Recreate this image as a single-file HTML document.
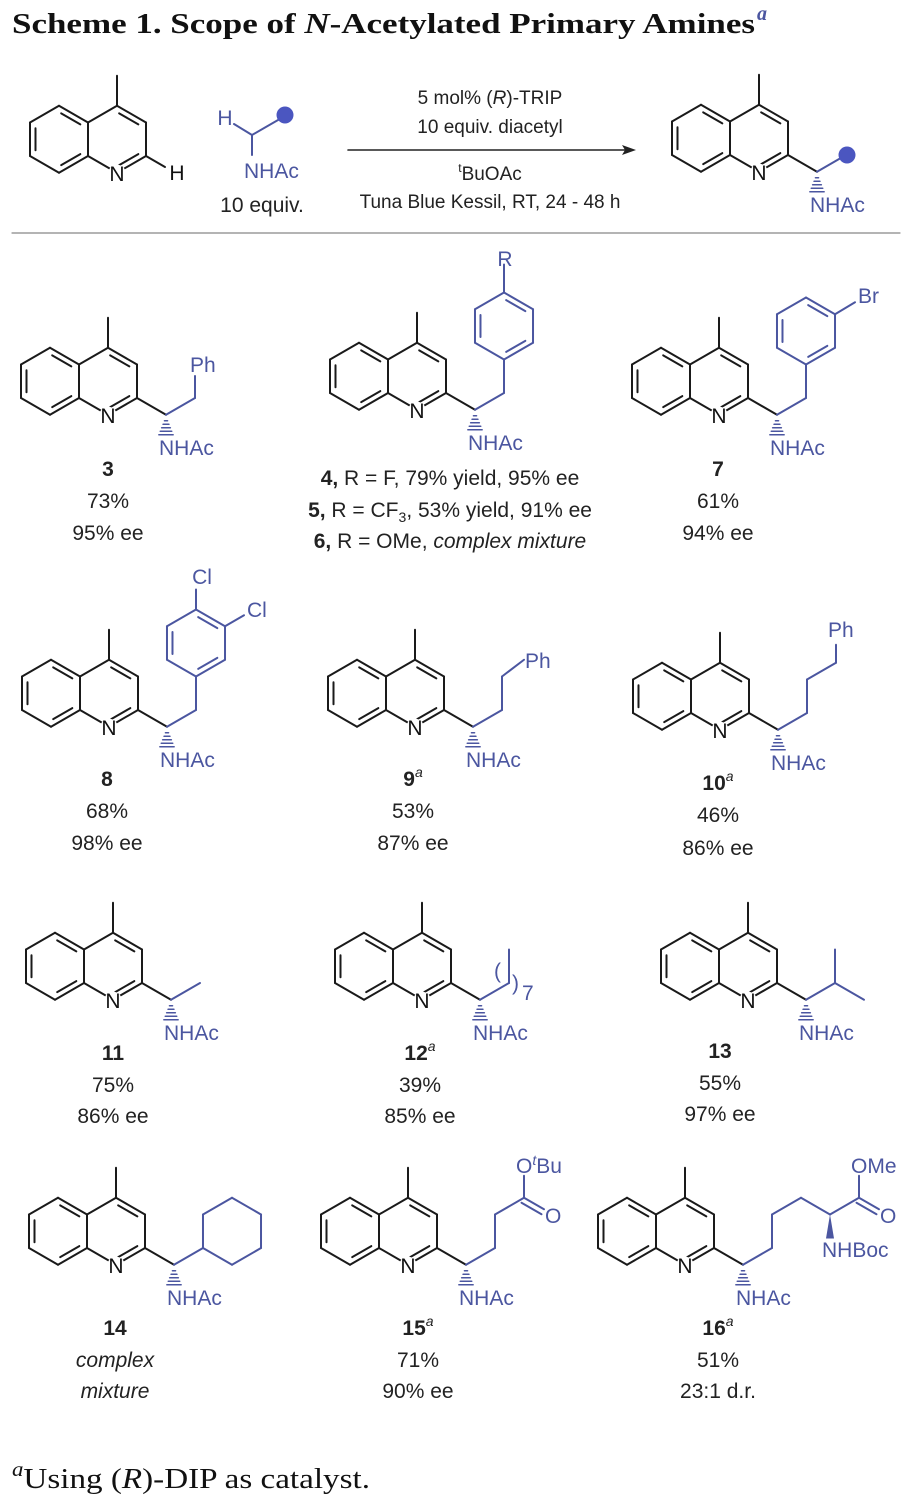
<!DOCTYPE html>
<html><head><meta charset="utf-8">
<style>
html,body{margin:0;padding:0;background:#fff;}
svg{display:block;}
.t{font-family:"Liberation Sans",sans-serif;font-size:21px;fill:#222;}
.b{font-weight:bold;}
.bl{font-family:"Liberation Sans",sans-serif;font-size:21px;fill:#4b56a0;}
.k{font-family:"Liberation Sans",sans-serif;font-size:21px;fill:#111;}
.c{font-family:"Liberation Sans",sans-serif;font-size:19px;fill:#222;}
</style></head><body>
<svg id="s" width="915" height="1508" viewBox="0 0 915 1508" xmlns="http://www.w3.org/2000/svg">
<g id="bonds"></g>
<g id="labels">
<text x="12" y="33" font-family="Liberation Serif,serif" font-weight="bold" font-size="29" fill="#111" textLength="743" lengthAdjust="spacingAndGlyphs">Scheme 1. Scope of <tspan font-style="italic">N</tspan>-Acetylated Primary Amines</text>
<text x="757" y="20" font-family="Liberation Serif,serif" font-weight="bold" font-style="italic" font-size="20" fill="#4b56a0">a</text>

<text class="k" x="177" y="180" text-anchor="middle">H</text>
<text class="bl" x="225" y="125" text-anchor="middle">H</text>
<text class="bl" x="244" y="178">NHAc</text>
<text class="t" x="262" y="212" text-anchor="middle">10 equiv.</text>
<text class="c" x="490" y="104" text-anchor="middle">5 mol% (<tspan font-style="italic">R</tspan>)-TRIP</text>
<text class="c" x="490" y="133" text-anchor="middle">10 equiv. diacetyl</text>
<text class="c" x="490" y="180" text-anchor="middle"><tspan font-size="12" dy="-8">t</tspan><tspan dy="8">BuOAc</tspan></text>
<text class="c" x="490" y="208" text-anchor="middle">Tuna Blue Kessil, RT, 24 - 48 h</text>

<text class="bl" x="190" y="372">Ph</text>
<text class="t b" x="108" y="476" text-anchor="middle">3</text>
<text class="t" x="108" y="508" text-anchor="middle">73%</text>
<text class="t" x="108" y="540" text-anchor="middle">95% ee</text>
<text class="bl" x="505" y="266" text-anchor="middle">R</text>
<text class="t" x="450" y="485" text-anchor="middle"><tspan font-weight="bold">4,</tspan> R = F, 79% yield, 95% ee</text>
<text class="t" x="450" y="517" text-anchor="middle"><tspan font-weight="bold">5,</tspan> R = CF<tspan font-size="14" dy="5">3</tspan><tspan dy="-5">, 53% yield, 91% ee</tspan></text>
<text class="t" x="450" y="548" text-anchor="middle"><tspan font-weight="bold">6,</tspan> R = OMe, <tspan font-style="italic">complex mixture</tspan></text>
<text class="bl" x="858" y="303">Br</text>
<text class="t b" x="718" y="476" text-anchor="middle">7</text>
<text class="t" x="718" y="508" text-anchor="middle">61%</text>
<text class="t" x="718" y="540" text-anchor="middle">94% ee</text>
<text class="bl" x="202" y="584" text-anchor="middle">Cl</text>
<text class="bl" x="247" y="617">Cl</text>
<text class="t b" x="107" y="786" text-anchor="middle">8</text>
<text class="t" x="107" y="818" text-anchor="middle">68%</text>
<text class="t" x="107" y="850" text-anchor="middle">98% ee</text>
<text class="bl" x="525" y="668">Ph</text>
<text class="t" x="413" y="786" text-anchor="middle"><tspan font-weight="bold">9</tspan><tspan font-size="14" font-style="italic" dy="-9">a</tspan></text>
<text class="t" x="413" y="818" text-anchor="middle">53%</text>
<text class="t" x="413" y="850" text-anchor="middle">87% ee</text>
<text class="bl" x="828" y="637">Ph</text>
<text class="t" x="718" y="790" text-anchor="middle"><tspan font-weight="bold">10</tspan><tspan font-size="14" font-style="italic" dy="-9">a</tspan></text>
<text class="t" x="718" y="822" text-anchor="middle">46%</text>
<text class="t" x="718" y="855" text-anchor="middle">86% ee</text>
<text class="t b" x="113" y="1060" text-anchor="middle">11</text>
<text class="t" x="113" y="1092" text-anchor="middle">75%</text>
<text class="t" x="113" y="1123" text-anchor="middle">86% ee</text>
<text class="bl" x="494" y="978" font-size="22">(</text>
<text class="bl" x="512" y="990" font-size="22">)</text>
<text class="bl" x="522" y="1000" font-size="15">7</text>
<text class="t" x="420" y="1060" text-anchor="middle"><tspan font-weight="bold">12</tspan><tspan font-size="14" font-style="italic" dy="-9">a</tspan></text>
<text class="t" x="420" y="1092" text-anchor="middle">39%</text>
<text class="t" x="420" y="1123" text-anchor="middle">85% ee</text>
<text class="t b" x="720" y="1058" text-anchor="middle">13</text>
<text class="t" x="720" y="1090" text-anchor="middle">55%</text>
<text class="t" x="720" y="1121" text-anchor="middle">97% ee</text>
<text class="t b" x="115" y="1335" text-anchor="middle">14</text>
<text class="t" x="115" y="1367" text-anchor="middle" font-style="italic">complex</text>
<text class="t" x="115" y="1398" text-anchor="middle" font-style="italic">mixture</text>
<text class="bl" x="516" y="1173">O<tspan font-size="14" font-style="italic" dy="-8">t</tspan><tspan dy="8">Bu</tspan></text>
<text class="bl" x="545" y="1223">O</text>
<text class="t" x="418" y="1335" text-anchor="middle"><tspan font-weight="bold">15</tspan><tspan font-size="14" font-style="italic" dy="-9">a</tspan></text>
<text class="t" x="418" y="1367" text-anchor="middle">71%</text>
<text class="t" x="418" y="1398" text-anchor="middle">90% ee</text>
<text class="bl" x="851" y="1173">OMe</text>
<text class="bl" x="880" y="1223">O</text>
<text class="bl" x="822" y="1257">NHBoc</text>
<text class="t" x="718" y="1335" text-anchor="middle"><tspan font-weight="bold">16</tspan><tspan font-size="14" font-style="italic" dy="-9">a</tspan></text>
<text class="t" x="718" y="1367" text-anchor="middle">51%</text>
<text class="t" x="718" y="1398" text-anchor="middle">23:1 d.r.</text>

<text x="12" y="1488" font-family="Liberation Serif,serif" font-size="29" fill="#111" textLength="358" lengthAdjust="spacingAndGlyphs"><tspan font-style="italic" font-size="20" dy="-12">a</tspan><tspan dy="12">Using (</tspan><tspan font-style="italic">R</tspan>)-DIP as catalyst.</text>
</g>
<g id="nhac"></g>
</svg>
<script>
(function(){
var NS="http://www.w3.org/2000/svg";
var g=document.getElementById("bonds"), gl=document.getElementById("nhac");
var K="#1a1a1a", B="#4b56a0";
var L=33.5,w=29,h=16.75;
function el(n,a,p){var e=document.createElementNS(NS,n);for(var k in a)e.setAttribute(k,a[k]);(p||g).appendChild(e);return e;}
function ln(x1,y1,x2,y2,c,sw){el("line",{x1:x1,y1:y1,x2:x2,y2:y2,stroke:c||K,"stroke-width":sw||2,"stroke-linecap":"round"});}
function inner(a,b,cx,cy,c){
 var mx=(a[0]+b[0])/2,my=(a[1]+b[1])/2,dx=cx-mx,dy=cy-my,d=Math.hypot(dx,dy);
 var ox=dx/d*5.5,oy=dy/d*5.5,f=0.17;
 var x1=a[0]+(b[0]-a[0])*f+ox,y1=a[1]+(b[1]-a[1])*f+oy,x2=b[0]+(a[0]-b[0])*f+ox,y2=b[1]+(a[1]-b[1])*f+oy;
 ln(x1,y1,x2,y2,c);
}
function quin(x,y){
 var C2=[x,y],C3=[x,y-L],C4=[x-w,y-L-h],C4a=[x-2*w,y-L],C8a=[x-2*w,y],N=[x-w,y+h],
 C5=[x-3*w,y-L-h],C6=[x-4*w,y-L],C7=[x-4*w,y],C8=[x-3*w,y+h];
 var P=[[C2,C3],[C3,C4],[C4,C4a],[C4a,C8a],[C8a,N],[N,C2],[C4a,C5],[C5,C6],[C6,C7],[C7,C8],[C8,C8a]];
 P.forEach(function(p){ln(p[0][0],p[0][1],p[1][0],p[1][1]);});
 var rc=[x-w,y-h],lc=[x-3*w,y-h];
 inner(C3,C4,rc[0],rc[1]);inner(N,C2,rc[0],rc[1]);
 inner(C4a,C5,lc[0],lc[1]);inner(C6,C7,lc[0],lc[1]);inner(C8,C8a,lc[0],lc[1]);
 ln(C4[0],C4[1],C4[0],C4[1]-30);
 el("circle",{cx:N[0],cy:N[1]+1,r:9,fill:"#fff"});
 var t=el("text",{x:N[0],y:N[1]+8,"text-anchor":"middle","class":"k"});t.textContent="N";
}
function hash(x,y,len){
 for(var i=0;i<5;i++){var yy=y+6+i*(len-6)/4,hw=1.5+i*1.4;ln(x-hw,yy,x+hw,yy,B,1.6);}
}
function nhac(x,y){hash(x,y,20);var t=el("text",{x:x-7,y:y+40,"class":"bl"},gl);t.textContent="NHAc";}
function ring(cx,cy,c,dbl,sat){
 var v=[];[90,30,-30,-90,-150,150].forEach(function(a){var r=a*Math.PI/180;v.push([cx+L*Math.cos(r),cy+L*Math.sin(r)]);});
 for(var i=0;i<6;i++){var a=v[i],b=v[(i+1)%6];ln(a[0],a[1],b[0],b[1],c);}
 if(!sat){[[0,1],[2,3],[4,5]].forEach(function(p){inner(v[p[0]],v[p[1]],cx,cy,c);});}
 return v;
}
function chain(pts,c){for(var i=0;i<pts.length-1;i++)ln(pts[i][0],pts[i][1],pts[i+1][0],pts[i+1][1],c||B);}
function sc(x,y){return [x+w,y+h];}
quin(146,156); ln(146,156,165,167);
chain([[234,124],[252,135],[285,116]]);ln(252,135,252,155,B);
el("circle",{cx:285,cy:115,r:8.5,fill:"#4b56c0"});
ln(348,150,628,150,"#222",1.6);
el("polygon",{points:"636,150 622,145 625,150 622,155",fill:"#222"});
ln(12,233,900,233,"#888",1.2);
quin(788,155);
var a=sc(788,155);ln(788,155,a[0],a[1]);chain([a,[846,155]]);el("circle",{cx:847,cy:155,r:8.5,fill:"#4b56c0"});nhac(a[0],a[1]);
quin(137,398);a=sc(137,398);ln(137,398,a[0],a[1]);chain([a,[a[0]+w,a[1]-h],[a[0]+w,a[1]-h-22]]);nhac(a[0],a[1]);
function benzyl(x,y){quin(x,y);var a=sc(x,y);ln(x,y,a[0],a[1]);var c=[a[0]+w,a[1]-h];var bt=[c[0],c[1]-L];chain([a,c,bt]);nhac(a[0],a[1]);return ring(bt[0],bt[1]-L,B);}
var v=benzyl(446,393);ln(v[3][0],v[3][1],v[3][0],v[3][1]-28,B);
v=benzyl(748,398);ln(v[2][0],v[2][1],v[2][0]+20,v[2][1]-12,B);
v=benzyl(138,710);ln(v[3][0],v[3][1],v[3][0],v[3][1]-20,B);ln(v[2][0],v[2][1],v[2][0]+19,v[2][1]-11,B);
quin(444,710);a=sc(444,710);ln(444,710,a[0],a[1]);chain([a,[a[0]+w,a[1]-h],[a[0]+w,a[1]-h-L],[a[0]+w+22,a[1]-2*h-L]]);nhac(a[0],a[1]);
quin(749,713);a=sc(749,713);ln(749,713,a[0],a[1]);chain([a,[a[0]+w,a[1]-h],[a[0]+w,a[1]-h-L],[a[0]+2*w,a[1]-2*h-L],[a[0]+2*w,a[1]-2*h-L-18]]);nhac(a[0],a[1]);
quin(142,983);a=sc(142,983);ln(142,983,a[0],a[1]);chain([a,[a[0]+w,a[1]-h]]);nhac(a[0],a[1]);
quin(451,983);a=sc(451,983);ln(451,983,a[0],a[1]);chain([a,[a[0]+w,a[1]-h],[a[0]+w,a[1]-h-L]]);nhac(a[0],a[1]);
quin(777,983);a=sc(777,983);ln(777,983,a[0],a[1]);var ch=[a[0]+w,a[1]-h];chain([a,ch,[ch[0],ch[1]-L]]);chain([ch,[ch[0]+w,ch[1]+h]]);nhac(a[0],a[1]);
quin(145,1248);a=sc(145,1248);ln(145,1248,a[0],a[1]);var at=[a[0]+w,a[1]-h];chain([a,at]);ring(at[0]+w,at[1]-h,B,null,true);nhac(a[0],a[1]);
quin(437,1248);a=sc(437,1248);ln(437,1248,a[0],a[1]);
var p1=[a[0]+w,a[1]-h],p2=[p1[0],p1[1]-L],p3=[p2[0]+w,p2[1]-h];
chain([a,p1,p2,p3,[p3[0],p3[1]-22]]);ln(p3[0],p3[1],p3[0]+20,p3[1]+11.5,B);ln(p3[0]-2.5,p3[1]+5,p3[0]+17.5,p3[1]+16.5,B);nhac(a[0],a[1]);
quin(714,1248);a=sc(714,1248);ln(714,1248,a[0],a[1]);
p1=[a[0]+w,a[1]-h];p2=[p1[0],p1[1]-L];p3=[p2[0]+w,p2[1]-h];var p4=[p3[0]+w,p3[1]+h],p5=[p4[0]+w,p4[1]-h];
chain([a,p1,p2,p3,p4,p5,[p5[0],p5[1]-22]]);ln(p5[0],p5[1],p5[0]+20,p5[1]+11.5,B);ln(p5[0]-2.5,p5[1]+5,p5[0]+17.5,p5[1]+16.5,B);
el("polygon",{points:p4[0]+","+p4[1]+" "+(p4[0]-4)+","+(p4[1]+24)+" "+(p4[0]+4)+","+(p4[1]+24),fill:B});
nhac(a[0],a[1]);
})();
</script>
</body></html>
